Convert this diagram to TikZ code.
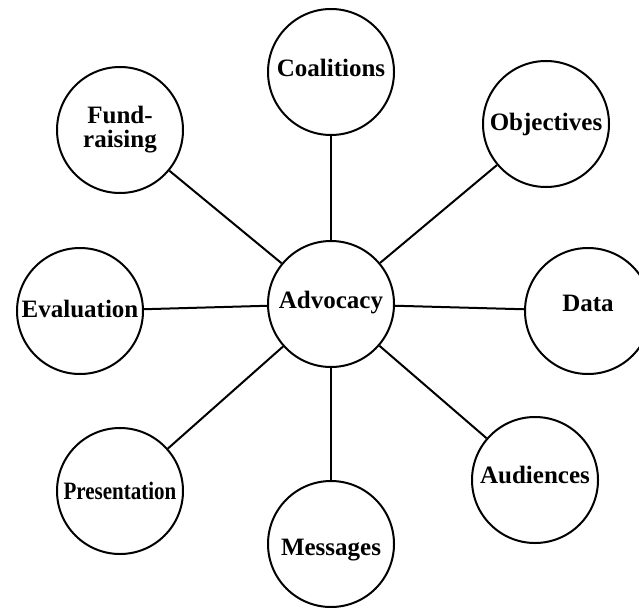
\documentclass[tikz,border=0pt]{standalone}
\usepackage{fontspec}
\setmainfont{Liberation Serif}
\usetikzlibrary{positioning}

% move a label up or down inside its circle
\newcommand{\lift}[2]{\smash{\raisebox{#1}{#2}}\vphantom{#2}}

\begin{document}
\begin{tikzpicture}[x=1pt,y=-1pt,
  topic/.style={draw,circle,line width=2pt,minimum size=126pt,inner sep=0pt,
    align=center,font=\bfseries\fontsize{25}{24}\selectfont},
  link/.style={line width=2pt}]

\useasboundingbox (0,0) rectangle (639,607);

%%% Centre
\node[topic] (advocacy) at (331,304) {\lift{1pt}{Advocacy}};

%%% Around the centre
\node[topic] (coalitions)   at (331,72)  {\lift{4pt}{Coalitions}};
\node[topic] (objectives)   at (546,124) {Objectives};
\node[topic] (data)         at (588,311) {\lift{8pt}{Data}};
\node[topic] (audiences)    at (535,480) {\lift{5pt}{Audiences}};
\node[topic] (messages)     at (331,544) {\lift{-6pt}{Messages}};
\node[topic] (presentation) at (120,491) {\scalebox{0.84}[1]{Presentation}};
\node[topic] (evaluation)   at (80,311)  {\lift{2pt}{Evaluation}};
\node[topic] (fundraising)  at (120,130) {Fund-\\raising};

%%% Spokes
\draw[link] (advocacy) -- (coalitions);
\draw[link] (advocacy) -- (objectives);
\draw[link] (advocacy) -- (data);
\draw[link] (advocacy) -- (audiences);
\draw[link] (advocacy) -- (messages);
\draw[link] (advocacy) -- (presentation);
\draw[link] (advocacy) -- (evaluation);
\draw[link] (advocacy) -- (fundraising);

\end{tikzpicture}
\end{document}
